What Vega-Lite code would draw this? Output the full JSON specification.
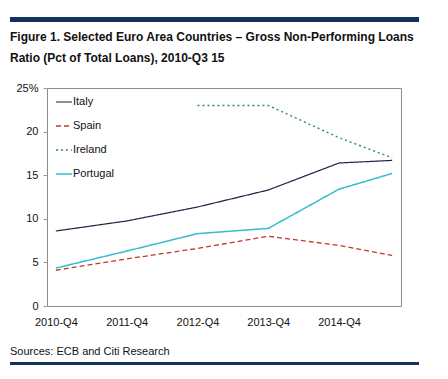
{
  "$schema": "https://vega.github.io/schema/vega-lite/v6.json",
  "padding": {"left": 10, "top": 13, "right": 5, "bottom": 5},
  "background": "white",
  "spacing": 17,
  "config": {
    "font": "Liberation Sans",
    "view": {"stroke": null},
    "title": {"font": "Liberation Sans", "color": "#111111"}
  },
  "resolve": {"legend": {"color": "independent", "strokeDash": "independent", "strokeWidth": "independent"}},
  "vconcat": [
    {
      "width": 409,
      "height": 5,
      "view": {"fill": "#14305e", "stroke": null},
      "title": {
        "text": ["Figure 1. Selected Euro Area Countries – Gross Non-Performing Loans", "Ratio (Pct of Total Loans), 2010-Q3 15"],
        "orient": "bottom",
        "anchor": "start",
        "frame": "bounds",
        "fontSize": 12,
        "fontWeight": "bold",
        "lineHeight": 21,
        "offset": 7
      },
      "data": {"values": [{"k": 1}]},
      "mark": {"type": "text", "text": ""},
      "encoding": {}
    },
    {
      "spacing": 0,
      "resolve": {"legend": {"color": "independent", "strokeDash": "independent", "strokeWidth": "independent"}},
      "hconcat": [
        {
          "width": 1,
          "height": 218,
          "data": {"values": [{"k": 1}]},
          "mark": {"type": "text", "text": ""},
          "encoding": {}
        },
        {
          "width": 354,
          "height": 218,
          "view": {"stroke": "#8c8c8c", "strokeWidth": 1},
          "data": {
            "values": [
              {"country": "Italy", "q": 0, "npl": 8.6},
              {"country": "Italy", "q": 4, "npl": 9.75},
              {"country": "Italy", "q": 8, "npl": 11.35},
              {"country": "Italy", "q": 12, "npl": 13.3},
              {"country": "Italy", "q": 16, "npl": 16.4},
              {"country": "Italy", "q": 19, "npl": 16.7},
              {"country": "Spain", "q": 0, "npl": 4.1},
              {"country": "Spain", "q": 4, "npl": 5.4},
              {"country": "Spain", "q": 8, "npl": 6.6},
              {"country": "Spain", "q": 12, "npl": 8.0},
              {"country": "Spain", "q": 16, "npl": 6.95},
              {"country": "Spain", "q": 19, "npl": 5.8},
              {"country": "Ireland", "q": 8, "npl": 23.0},
              {"country": "Ireland", "q": 12, "npl": 23.0},
              {"country": "Ireland", "q": 16, "npl": 19.3},
              {"country": "Ireland", "q": 19, "npl": 17.0},
              {"country": "Portugal", "q": 0, "npl": 4.35},
              {"country": "Portugal", "q": 4, "npl": 6.3},
              {"country": "Portugal", "q": 8, "npl": 8.3},
              {"country": "Portugal", "q": 12, "npl": 8.9},
              {"country": "Portugal", "q": 16, "npl": 13.4},
              {"country": "Portugal", "q": 19, "npl": 15.2}
            ]
          },
          "mark": {"type": "line", "clip": false},
          "encoding": {
            "x": {
              "field": "q",
              "type": "quantitative",
              "scale": {"domain": [-0.5, 19.5], "nice": false, "zero": false},
              "axis": {
                "title": null,
                "values": [0, 4, 8, 12, 16],
                "labelExpr": "(2010 + datum.value / 4) + '-Q4'",
                "grid": false,
                "ticks": false,
                "domain": false,
                "labelFontSize": 11,
                "labelColor": "#111111",
                "labelPadding": 10
              }
            },
            "y": {
              "field": "npl",
              "type": "quantitative",
              "scale": {"domain": [0, 25], "nice": false},
              "axis": {
                "title": null,
                "values": [0, 5, 10, 15, 20, 25],
                "labelExpr": "datum.value == 25 ? '25%' : datum.label",
                "grid": false,
                "domain": false,
                "tickSize": 4,
                "tickColor": "#9a9a9a",
                "labelFontSize": 11,
                "labelColor": "#111111",
                "labelPadding": 5,
                "minExtent": 35
              }
            },
            "color": {
              "field": "country",
              "type": "nominal",
              "sort": ["Italy", "Spain", "Ireland", "Portugal"],
              "scale": {"domain": ["Italy", "Spain", "Ireland", "Portugal"], "range": ["#1b2440", "#c0392b", "#2e8b6a", "#35bccd"]},
              "legend": {
                "title": null,
                "orient": "none",
                "legendX": 8,
                "legendY": 5,
                "symbolType": "stroke",
                "symbolSize": 256,
                "labelFontSize": 11,
                "labelColor": "#111111",
                "rowPadding": 10,
                "labelOffset": 0,
                "padding": 0
              }
            },
            "strokeDash": {
              "field": "country",
              "type": "nominal",
              "sort": ["Italy", "Spain", "Ireland", "Portugal"],
              "scale": {"domain": ["Italy", "Spain", "Ireland", "Portugal"], "range": [[1, 0], [5, 3], [2, 3], [1, 0]]},
              "legend": null
            },
            "strokeWidth": {
              "field": "country",
              "type": "nominal",
              "sort": ["Italy", "Spain", "Ireland", "Portugal"],
              "scale": {"domain": ["Italy", "Spain", "Ireland", "Portugal"], "range": [1.2, 1.5, 2, 3]},
              "legend": null
            }
          }
        }
      ]
    },
    {
      "width": 409,
      "height": 3,
      "view": {"fill": "#14305e", "stroke": null},
      "title": {
        "text": "Sources: ECB and Citi Research",
        "orient": "top",
        "anchor": "start",
        "frame": "bounds",
        "fontSize": 11,
        "fontWeight": "normal",
        "offset": 1
      },
      "data": {"values": [{"k": 1}]},
      "mark": {"type": "text", "text": ""},
      "encoding": {}
    }
  ]
}
